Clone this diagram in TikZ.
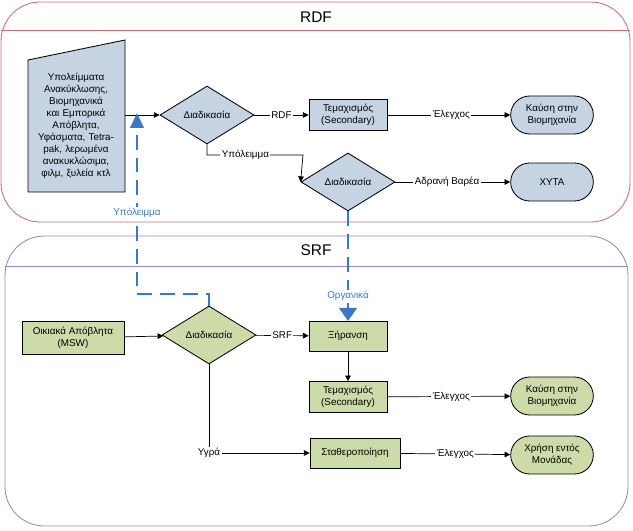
\documentclass[tikz,border=0pt]{standalone}
\usepackage{fontspec}
\setmainfont{Liberation Sans}
\usetikzlibrary{shapes.geometric,shapes.misc,arrows.meta}
\definecolor{rdfline}{HTML}{C87070}
\definecolor{srfline}{HTML}{9C88C0}
\definecolor{bluefill}{HTML}{C6D3E3}
\definecolor{greenfill}{HTML}{CDDBA8}
\definecolor{flowblue}{HTML}{3C78C8}
\tikzset{
    frame/.style={
        draw,
        rounded corners=28pt,
        line width=0.6pt
    },
    process/.style={
        draw,
        line width=0.6pt,
        minimum width=1.95cm,
        minimum height=0.75cm,
        align=center
    },
    decision/.style={
        draw,
        diamond,
        aspect=1.6,
        inner sep=1pt,
        line width=0.6pt,
        minimum width=2.35cm,
        minimum height=1.45cm
    },
    terminal/.style={
        draw,
        rounded rectangle,
        line width=0.6pt,
        minimum width=2.3cm,
        minimum height=0.95cm,
        align=center
    },
    flow/.style={
        -{Triangle[length=4pt,width=4pt]},
        line width=0.5pt
    },
    tag/.style={
        fill=white,
        inner sep=1pt
    },
    back/.style={
        draw=flowblue,
        line width=1.8pt,
        dash pattern=on 0.37cm off 0.2cm
    },
    backtag/.style={
        fill=white,
        text=flowblue,
        inner sep=1pt
    }
}

\begin{document}
\begin{tikzpicture}[x=0.025cm,y=-0.025cm,font=\fontsize{7}{8.5}\selectfont]
    \useasboundingbox (0,0) rectangle (633,531);

    %% frames
    \draw[frame,draw=rdfline] (1,2) rectangle (630,222);
    \draw[rdfline] (1,30) -- (630,30);
    \node (rdftitle) at (316,17) {\fontsize{11}{13}\selectfont RDF};
    \draw[frame,draw=srfline] (5,236) rectangle (628,526);
    \draw[srfline] (5,266) -- (628,266);
    \node (srftitle) at (316,250) {\fontsize{11}{13}\selectfont SRF};

    %% RDF
    \draw[fill=bluefill,line width=0.6pt] (28,60) -- (125,40) -- (125,192) -- (28,192) -- cycle;
    \node (waste) [align=center,text width=2.3cm] at (76,126) {Υπολείμματα Ανακύκλωσης, Βιομηχανικά\ \ και Εμπορικά Απόβλητα, Υφάσματα, Tetrapak, λερωμένα ανακυκλώσιμα, φιλμ, ξυλεία κτλ};
    \coordinate (wasteout) at (125,115);
    \node (dec1) [decision,fill=bluefill] at (207,115) {Διαδικασία};
    \node (cut1) [process,fill=bluefill] at (348,115) {Τεμαχισμός\\(Secondary)};
    \node (burn1) [terminal,fill=bluefill] at (552,115) {Καύση στην\\Βιομηχανία};
    \node (dec2) [decision,fill=bluefill] at (348,182) {Διαδικασία};
    \node (landfill) [terminal,fill=bluefill] at (552,182) {ΧΥΤΑ};

    \draw[flow] (wasteout) -- (dec1);
    \draw[flow] (dec1) -- node[tag] {RDF} (cut1);
    \draw[flow] (cut1) -- node[tag,pos=0.52] {Έλεγχος} (burn1);
    \draw[flow] (dec1.south) |- node[tag,pos=0.7] {Υπόλειμμα} (303,155) -- (dec2.west);
    \draw[flow] (dec2) -- node[tag,pos=0.45] {Αδρανή Βαρέα} (landfill);

    %% SRF
    \node (msw) [process,fill=greenfill,minimum width=2.55cm,minimum height=0.82cm] at (73,338) {Οικιακά Απόβλητα\\(MSW)};
    \node (dec3) [decision,fill=greenfill] at (209,335) {Διαδικασία};
    \node (dry) [process,fill=greenfill] at (348,336) {Ξήρανση};
    \node (cut2) [process,fill=greenfill] at (348,397) {Τεμαχισμός\\(Secondary)};
    \node (burn2) [terminal,fill=greenfill] at (552,396) {Καύση στην\\Βιομηχανία};
    \node (stab) [process,fill=greenfill,minimum width=2.25cm] at (355,453) {Σταθεροποίηση};
    \node (use) [terminal,fill=greenfill] at (552,455) {Χρήση εντός\\Μονάδας};

    \draw[flow] (msw) -- (dec3);
    \draw[flow] (dec3) -- node[tag] {SRF} (dry);
    \draw[flow] (dry) -- (cut2);
    \draw[flow] (cut2) -- node[tag,pos=0.52] {Έλεγχος} (burn2);
    \draw[flow] (dec3.south) |- node[tag,pos=0.5] {Υγρά} (stab);
    \draw[flow] (stab) -- node[tag,pos=0.5] {Έλεγχος} (use);

    %% returns
    \draw[back] (dec2.south) -- (348,308);
    \fill[flowblue] (339,308) -- (357,308) -- (348,321) -- cycle;
    \node[backtag] at (348,296) {Οργανικά};
    \draw[back] (dec3.north) -- (209,294) -- (137,294) -- (137,128);
    \fill[flowblue] (130,128) -- (144,128) -- (137,113) -- cycle;
    \node[backtag] at (137,213) {Υπόλειμμα};
\end{tikzpicture}
\end{document}
